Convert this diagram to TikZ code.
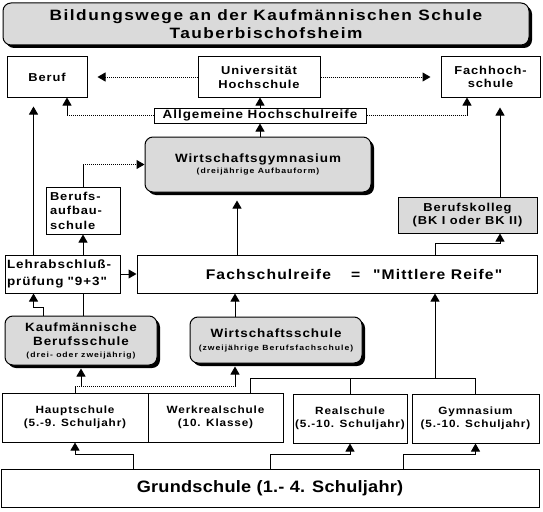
\documentclass[tikz,border=0pt]{standalone}
\usepackage{fontspec}
\setmainfont{Liberation Sans}
\newfontfamily\boxfont[FakeStretch=1.12,LetterSpace=8,Ligatures=TeXOff]{Liberation Sans}
\newfontfamily\headfont[FakeStretch=1.15,LetterSpace=10,Ligatures=TeXOff]{Liberation Sans}
\newfontfamily\subfont[FakeStretch=1.15,LetterSpace=13,Ligatures=TeXOff]{Liberation Sans}
\newfontfamily\basefont[FakeStretch=1.1,LetterSpace=1.5,Ligatures=TeXOff]{Liberation Sans}
\newcommand{\subtext}{\subfont\fontsize{7.5}{9}\selectfont}
\usetikzlibrary{arrows.meta,shadows}
\definecolor{boxgray}{RGB}{218,218,218}

\begin{document}
\begin{tikzpicture}[x=1pt,y=-1pt,
    box/.style={draw=black,line width=1pt,fill=white,inner sep=1pt,align=center,
        font=\boxfont\bfseries\fontsize{11.5}{14}\selectfont},
    graybox/.style={box,fill=boxgray},
    grayround/.style={graybox,rounded corners=8pt,font=\boxfont\bfseries\fontsize{12}{14.5}\selectfont,
        drop shadow={shadow xshift=3pt,shadow yshift=-3pt,fill=black,opacity=1}},
    rowbox/.style={box,inner sep=0pt,font=\boxfont\bfseries\fontsize{10.5}{13}\selectfont},
    line/.style={line width=1pt},
    dotline/.style={line width=1pt,densely dotted},
    arrow/.style={line width=1pt,-{Triangle[length=8pt,width=9pt]}},
    dotarrow/.style={arrow,densely dotted}]
\useasboundingbox (0,0) rectangle (543,511);

\node[grayround,minimum width=526pt,minimum height=42pt,font=\headfont\bfseries\fontsize{15}{18}\selectfont] (title) at (266,24) {Bildungswege an der Kaufmännischen Schule\\Tauberbischofsheim};

\node[box,minimum width=80pt,minimum height=40pt] (beruf) at (47,77) {Beruf};
\node[box,minimum width=122pt,minimum height=40pt] (uni) at (259,77) {Universität\\Hochschule};
\node[box,minimum width=99pt,minimum height=40pt,font=\boxfont\bfseries\fontsize{11.5}{13}\selectfont] (fh) at (490.5,77) {Fachhoch-\\schule};
\node[box,minimum width=212pt,minimum height=15pt,inner sep=0pt,font=\boxfont\bfseries\fontsize{12}{14}\selectfont] (ahr) at (260,115.5) {Allgemeine Hochschulreife};

\node[grayround,minimum width=226pt,minimum height=55pt] (wg) at (258,164.5) {Wirtschaftsgymnasium\\[-3.5pt]{\subtext (dreijährige Aufbauform)}};
\node[box,text width=66pt,align=left,inner sep=4pt,minimum height=47pt,font=\boxfont\bfseries\fontsize{11.5}{14.5}\selectfont] (bas) at (83,210.5) {Berufs-\\aufbau-\\schule};
\node[graybox,minimum width=139pt,minimum height=36pt,font=\boxfont\bfseries\fontsize{11.5}{13}\selectfont] (bk) at (467.5,215) {Berufskolleg\\(BK I oder BK II)};
\node[box,text width=111pt,align=left,inner xsep=2pt,minimum height=38pt,font=\boxfont\bfseries\fontsize{12}{17}\selectfont] (lehr) at (62.5,274) {Lehrabschluß-\\prüfung "9+3"};
\node[box,minimum width=400pt,minimum height=38pt,font=\boxfont\bfseries\fontsize{14}{16}\selectfont] (fsr) at (337,274) {\hspace*{34pt}Fachschulreife\hspace{20pt}=\hspace{13pt}"Mittlere Reife"};

\node[grayround,minimum width=152pt,minimum height=49pt] (kbs) at (81,340.5) {Kaufmännische\\Berufsschule\\[-3pt]{\subtext (drei- oder zweijährig)}};
\node[grayround,minimum width=172pt,minimum height=46pt] (ws) at (276,340) {Wirtschaftsschule\\[-1.5pt]{\subtext (zweijährige Berufsfachschule)}};

\node[rowbox,minimum width=146pt,minimum height=49pt] (haupt) at (75,417.5) {Hauptschule\\(5.-9. Schuljahr)};
\node[rowbox,minimum width=135pt,minimum height=49pt] (werk) at (215.5,417.5) {Werkrealschule\\(10. Klasse)};
\node[rowbox,minimum width=114pt,minimum height=49pt] (real) at (350,418.5) {Realschule\\(5.-10. Schuljahr)};
\node[rowbox,minimum width=127pt,minimum height=49pt] (gym) at (475.5,418.5) {Gymnasium\\(5.-10. Schuljahr)};
\node[box,minimum width=538pt,minimum height=38pt,font=\basefont\bfseries\fontsize{16.5}{19}\selectfont] (grund) at (270,488) {Grundschule (1.- 4. Schuljahr)};

\draw[dotarrow,shorten >=10pt] (uni) -- (beruf);
\draw[dotarrow,shorten >=10pt] (uni) -- (fh);
\draw[dotline] (ahr.west) -- ([xshift=20pt]beruf.south |- ahr.west);
\draw[arrow] ([xshift=20pt]beruf.south |- ahr.west) -- ([xshift=20pt]beruf.south);
\draw[dotline] (ahr.east) -- ([xshift=-23.5pt]fh.south |- ahr.east);
\draw[arrow] ([xshift=-23.5pt]fh.south |- ahr.east) -- ([xshift=-23.5pt]fh.south);
\draw[arrow] (ahr.north) -- (ahr.north |- uni.south);
\draw[arrow] (ahr.south |- wg.north) -- (ahr.south);
\draw[arrow,shorten >=9pt] ([xshift=-29pt]lehr.north) -- ([xshift=-29pt]lehr.north |- beruf.south);
\draw[arrow,shorten >=10pt] ([xshift=32.5pt]bk.north) -- ([xshift=32.5pt]bk.north |- fh.south);

\draw[line] (bas.north) -- (bas.north |- wg.west);
\draw[dotarrow] (bas.north |- wg.west) -- (wg.west);
\draw[arrow] (bas.south |- lehr.north) -- (bas.south);
\draw[arrow] (lehr.east) -- (fsr.west);
\draw[arrow,shorten >=8pt] ([xshift=-100pt]fsr.north) -- ([xshift=-100pt]fsr.north |- wg.south);
\draw[arrow] ([xshift=98pt]fsr.north) -- ++(0,-11) -| ([xshift=32.5pt]bk.south);

\draw[arrow] ([xshift=-38pt]kbs.north) -- ++(0,-8) -| ([xshift=-29pt]lehr.south);
\draw[line] (bas.south |- lehr.south) -- (bas.south |- kbs.north);
\draw[arrow] ([xshift=-41pt]ws.north) -- ([xshift=-41pt]ws.north |- fsr.south);

\draw[line] (haupt.north) -- ++(0,-6) coordinate (hbus);
\draw[dotline] (hbus) -- ([xshift=-41pt]ws.south |- hbus);
\draw[arrow,shorten >=3pt] (kbs.south |- hbus) -- (kbs.south);
\draw[arrow,shorten >=3pt] ([xshift=-41pt]ws.south |- hbus) -- ([xshift=-41pt]ws.south);
\draw[line] ([xshift=34.5pt]werk.north) -- ++(0,-14) coordinate (rbus) -| (gym.north);
\draw[line] (real.north) -- (real.north |- rbus);
\draw[arrow] ([xshift=98pt]fsr.south |- rbus) -- ([xshift=98pt]fsr.south);

\draw[arrow] ([xshift=-137pt]grund.north) -- ++(0,-14) -| (haupt.south);
\draw[arrow] (grund.north) -- ++(0,-14) -| (real.south);
\draw[arrow] ([xshift=133pt]grund.north) -- ++(0,-14) -| (gym.south);
\end{tikzpicture}
\end{document}
